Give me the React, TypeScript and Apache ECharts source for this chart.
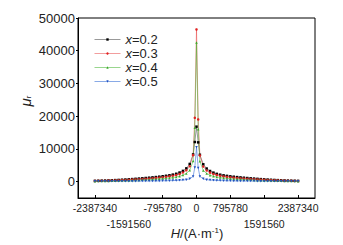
import React, { useEffect, useRef } from "react";
import * as echarts from "echarts";

const H = [
  -2387340, -2307762, -2228184, -2148606, -2069028, -1989450, -1909872, -1830294, -1750716, -1671138,
  -1591560, -1511982, -1432404, -1352826, -1273248, -1193670, -1114092, -1034514, -954936, -875358,
  -795780, -716202, -636624, -557046, -477468, -397890, -318312, -238734, -159156, -79578,
  -39789, 0, 39789,
  79578, 159156, 238734, 318312, 397890, 477468, 557046, 636624, 716202, 795780,
  875358, 954936, 1034514, 1114092, 1193670, 1273248, 1352826, 1432404, 1511982, 1591560,
  1671138, 1750716, 1830294, 1909872, 1989450, 2069028, 2148606, 2228184, 2307762, 2387340,
];

const seriesNames = ["x=0.2", "x=0.3", "x=0.4", "x=0.5"];

const mu02 = [
  240, 270, 300, 330, 370, 420, 470, 520, 580, 640, 710, 780, 860, 940, 1020, 1110, 1200, 1300, 1400, 1510,
  1640, 1780, 1940, 2140, 2400, 2780, 3280, 4050, 5400, 8300, 12100,
  16800,
  12000, 8200, 5300, 4000, 3250, 2750, 2380, 2120, 1920, 1760, 1620, 1500, 1390, 1290, 1190, 1100, 1010, 930,
  850, 770, 700, 630, 570, 510, 460, 410, 360, 320, 290, 260, 230,
];
const mu03 = [
  210, 230, 250, 280, 310, 340, 380, 420, 460, 510, 560, 620, 680, 740, 810, 880, 960, 1040, 1130, 1230,
  1340, 1460, 1610, 1790, 2010, 2320, 2780, 3450, 4700, 8100, 19500,
  46500,
  19000, 8000, 4600, 3400, 2750, 2300, 2000, 1780, 1600, 1450, 1330, 1220, 1120, 1030, 950, 870, 800, 730,
  670, 610, 550, 500, 450, 410, 370, 330, 300, 270, 240, 220, 200,
];
const mu04 = [
  155, 170, 185, 205, 225, 245, 270, 295, 325, 355, 385, 425, 465, 505, 555, 605, 655, 715, 775, 845,
  925, 1015, 1125, 1255, 1430, 1660, 2000, 2520, 3450, 6300, 16500,
  42500,
  16000, 6200, 3400, 2500, 1980, 1650, 1420, 1250, 1120, 1010, 920, 840, 770, 710, 650, 600, 550, 500,
  460, 420, 380, 350, 320, 290, 265, 240, 220, 200, 180, 165, 150,
];
const mu05 = [
  80, 85, 90, 95, 100, 105, 110, 115, 120, 125, 130, 140, 150, 160, 170, 180, 190, 200, 215, 230,
  250, 270, 295, 325, 360, 410, 480, 600, 850, 1600, 4300,
  10500,
  4200, 1600, 850, 600, 480, 410, 360, 325, 295, 270, 250, 230, 215, 200, 190, 180, 170, 160,
  150, 140, 130, 125, 120, 115, 110, 105, 100, 95, 90, 85, 80,
];

const xTicks = [-2387340, -1591560, -795780, 0, 795780, 1591560, 2387340];
const xLabelsRow1 = [-2387340, -795780, 0, 795780, 2387340];
const xLabelsRow2 = [-1591560, 1591560];
const yTicks = [0, 10000, 20000, 30000, 40000, 50000];

const FONT = "'Liberation Sans', Arial, sans-serif";

export default function App() {
  const ref = useRef<HTMLDivElement>(null);
  useEffect(() => {
    if (!ref.current) return;
    const chart = echarts.init(ref.current, null, { renderer: "svg" });
    const allVals = [mu02, mu03, mu04, mu05];
    const lineColors = ["rgba(0,0,0,0.4)", "rgba(230,60,60,0.5)", "rgba(70,180,50,0.55)", "rgba(40,100,210,0.55)"];
    const markColors = ["#000000", "#e02020", "#3aa82a", "#1f50c0"];
    const symbols = ["rect", "circle", "triangle", "triangle"];
    const rot = [0, 0, 0, 180];
    const series = allVals.map((vals, i) => ({
      type: "line",
      name: seriesNames[i],
      xAxisIndex: 0,
      data: H.map((h, j) => [h, vals[j]]),
      symbol: symbols[i],
      symbolRotate: rot[i],
      symbolSize: 2.5,
      showSymbol: true,
      lineStyle: { color: lineColors[i], width: 1 },
      itemStyle: { color: markColors[i] },
    }));
    const xLabelBase = {
      hideOverlap: false,
      interval: 0,
      showMinLabel: true,
      showMaxLabel: true,
      fontFamily: FONT,
      fontSize: 10.5,
      color: "#222",
      formatter: (v: number) => String(v),
    };
    chart.setOption({
      animation: false,
      backgroundColor: "#ffffff",
      textStyle: { fontFamily: FONT },
      grid: {
        left: 78,
        right: 28,
        top: 18,
        bottom: 47,
        show: true,
        borderColor: "#000",
        borderWidth: 1,
        backgroundColor: "transparent",
      },
      legend: {
        left: 94,
        top: 33,
        orient: "vertical",
        itemWidth: 26,
        itemHeight: 3,
        itemGap: 1,
        padding: 0,
        data: seriesNames,
        lineStyle: { width: 1 },
        formatter: (name: string) => "{i|x}" + name.slice(1),
        textStyle: {
          fontFamily: FONT,
          fontSize: 13,
          color: "#222",
          lineHeight: 12,
          rich: { i: { fontStyle: "italic", fontSize: 13, lineHeight: 12, fontFamily: FONT, color: "#222" } },
        },
      },
      xAxis: [
        {
          type: "value",
          min: -2785230,
          max: 2785230,
          position: "bottom",
          axisLine: { show: true, onZero: false, lineStyle: { color: "#000", width: 1 } },
          axisTick: { show: true, inside: true, length: 3, customValues: xTicks, lineStyle: { color: "#000" } },
          axisLabel: { ...xLabelBase, customValues: xLabelsRow1, margin: 4 },
          splitLine: { show: false },
        },
        {
          type: "value",
          min: -2785230,
          max: 2785230,
          position: "bottom",
          offset: 0,
          axisLine: { show: false, onZero: false },
          axisTick: { show: false },
          axisLabel: { ...xLabelBase, customValues: xLabelsRow2, margin: 20 },
          splitLine: { show: false },
        },
      ],
      yAxis: {
        type: "value",
        min: -5000,
        max: 50000,
        axisLine: { show: true, onZero: false, lineStyle: { color: "#000", width: 1 } },
        axisTick: { show: true, inside: false, length: 2, customValues: yTicks, lineStyle: { color: "#000" } },
        axisLabel: {
          customValues: yTicks,
          hideOverlap: false,
          fontFamily: FONT,
          fontSize: 13,
          color: "#222",
          margin: 3,
          formatter: (v: number) => String(v),
        },
        splitLine: { show: false },
      },
      graphic: [
        {
          type: "text",
          x: 197,
          y: 233,
          style: {
            text: "{h|H}/(A·m{s|-1})",
            x: 0,
            y: 0,
            align: "center",
            verticalAlign: "middle",
            fontFamily: FONT,
            fontSize: 13,
            fill: "#222",
            rich: {
              h: { fontStyle: "italic", fontSize: 13, fontFamily: FONT, fill: "#222" },
              s: { fontSize: 8, fontFamily: FONT, fill: "#222", verticalAlign: "top", padding: [0, 0, 6, 0] },
            },
          },
        },
        {
          type: "text",
          x: 25,
          y: 101,
          rotation: Math.PI / 2,
          style: {
            text: "{m|μ}{r|r}",
            align: "center",
            verticalAlign: "middle",
            fontFamily: FONT,
            fontSize: 15,
            fill: "#222",
            rich: {
              m: { fontStyle: "italic", fontSize: 15, fontFamily: FONT, fill: "#222" },
              r: { fontSize: 8, fontFamily: FONT, fill: "#222", verticalAlign: "bottom", padding: [6, 0, 0, 0] },
            },
          },
        },
      ],
      series,
    });
    return () => chart.dispose();
  }, []);
  return (
    <div
      ref={ref}
      style={{ position: "fixed", left: 0, top: 0, width: 343, height: 245, background: "#fff" }}
    />
  );
}
